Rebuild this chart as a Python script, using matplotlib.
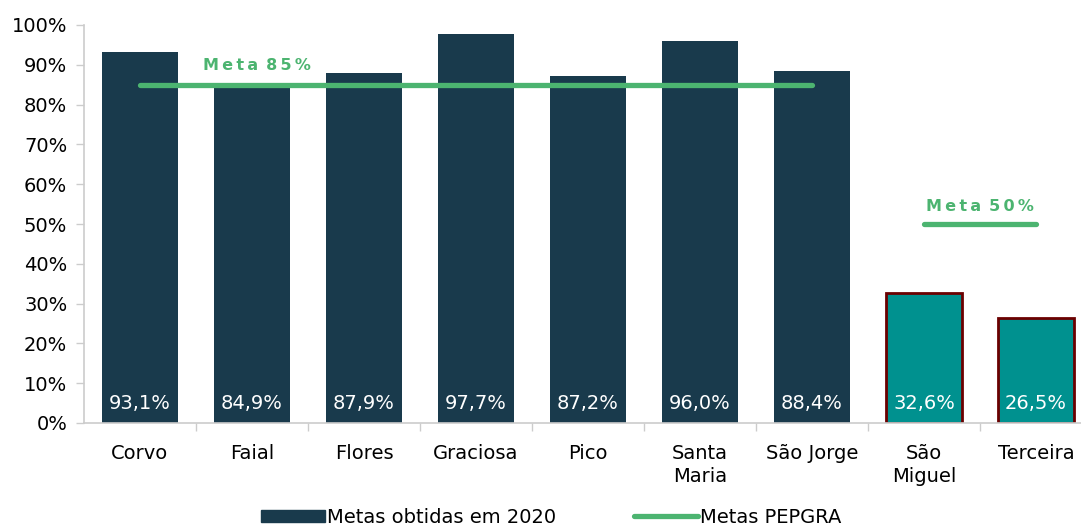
import matplotlib.pyplot as plt
from matplotlib.patches import Patch
from matplotlib.lines import Line2D

# ---------- Data ----------
ilhas = ["Corvo", "Faial", "Flores", "Graciosa", "Pico", "Santa\nMaria",
         "São Jorge", "São\nMiguel", "Terceira"]
obtidas = [93.1, 84.9, 87.9, 97.7, 87.2, 96.0, 88.4, 32.6, 26.5]
meta_grupo1 = 85
meta_grupo2 = 50
n_grupo1 = 7

dark = "#193a4c"
teal = "#00918f"
green = "#4cb470"

fig = plt.figure(figsize=(10.81, 5.26), dpi=100)
ax = fig.add_axes([84 / 1081, 103 / 526, 1008 / 1081, 398 / 526])

x = list(range(len(ilhas)))
cores = [dark] * n_grupo1 + [teal] * (len(ilhas) - n_grupo1)
bars = ax.bar(x, obtidas, width=0.68, color=cores, zorder=2)
for b in bars[n_grupo1:]:
    b.set_edgecolor("#6b0000")
    b.set_linewidth(2)

# value labels inside the bars
for xi, v in zip(x, obtidas):
    ax.text(xi, 5, f"{v:.1f}%".replace(".", ","), ha="center", va="center",
            color="white", fontsize=14, zorder=3)

# target lines
ax.plot(x[:n_grupo1], [meta_grupo1] * n_grupo1, color=green, lw=3.8,
        solid_capstyle="round", zorder=4)
ax.plot(x[n_grupo1:], [meta_grupo2] * (len(ilhas) - n_grupo1), color=green,
        lw=3.8, solid_capstyle="round", zorder=4)
sp = "\u2009"
ax.text(1.045, 89.7, sp.join("Meta") + "\u2002" + sp.join("85%"), ha="center",
        va="center", color=green, fontsize=11.5, fontweight="bold")
ax.text(7.5, 54.3, sp.join("Meta") + "\u2002" + sp.join("50%"), ha="center",
        va="center", color=green, fontsize=11.5, fontweight="bold")

ax.set_xlim(-0.5, len(ilhas) - 0.5)
ax.set_ylim(0, 100)
ax.set_yticks(range(0, 101, 10))
ax.set_yticklabels([f"{t}%" for t in range(0, 101, 10)], fontsize=14)
ax.set_xticks(x)
ax.set_xticklabels(ilhas, fontsize=14, linespacing=1.3)
ax.tick_params(axis="x", length=0, pad=15)
ax.set_xticks([i + 0.5 for i in x[:-1]], minor=True)
ax.tick_params(axis="x", which="minor", length=6, color="#cccccc", width=1)
ax.tick_params(axis="y", length=6, color="#cccccc", width=1, pad=6)

for s in ["top", "right"]:
    ax.spines[s].set_visible(False)
for s in ["left", "bottom"]:
    ax.spines[s].set_color("#cccccc")
    ax.spines[s].set_linewidth(1.2)

handles = [Patch(color=dark), Line2D([0], [0], color=green, lw=3.8, solid_capstyle="round")]
fig.legend(handles, ["Metas obtidas em 2020", "Metas PEPGRA"], loc="lower center",
           bbox_to_anchor=(0.51, -0.035), ncol=2, frameon=False, fontsize=14,
           handlelength=3.3, handleheight=0.6, handletextpad=0.1, columnspacing=4)

fig.savefig("out.png", dpi=100)
